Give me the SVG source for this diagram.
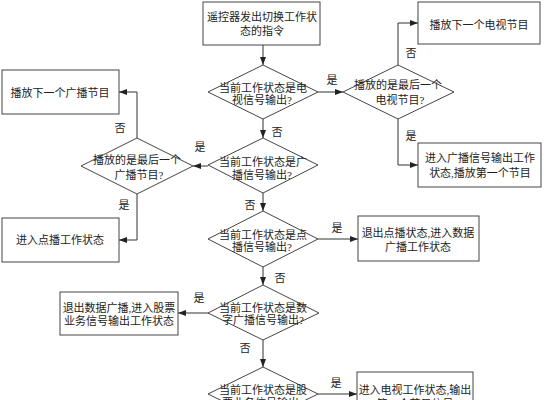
<svg xmlns="http://www.w3.org/2000/svg" width="546" height="400" viewBox="0 0 546 400">
<defs>
<style>
.b{fill:#fff;stroke:#444;stroke-width:1}
.t{font-family:"Liberation Serif","Noto Sans CJK SC",serif;font-size:11px;fill:#222;text-anchor:middle}
.c{fill:none;stroke:#333;stroke-width:1}
</style>
<marker id="a" viewBox="0 0 8 6" refX="8" refY="3" markerWidth="8" markerHeight="6" markerUnits="userSpaceOnUse" orient="auto">
<path d="M0,0 L8,3 L0,6 Z" fill="#222"/>
</marker>
</defs>
<rect width="546" height="400" fill="#fff"/>
<g id="connectors">
<path class="c" d="M263,45 V65" marker-end="url(#a)"/>
<path class="c" d="M318,92 H343" marker-end="url(#a)"/>
<path class="c" d="M398,65 V23 H418" marker-end="url(#a)"/>
<path class="c" d="M398,119 V165 H418" marker-end="url(#a)"/>
<path class="c" d="M263,119 V138" marker-end="url(#a)"/>
<path class="c" d="M208,166 H193" marker-end="url(#a)"/>
<path class="c" d="M137,138 V92 H119" marker-end="url(#a)"/>
<path class="c" d="M137,194 V240 H119" marker-end="url(#a)"/>
<path class="c" d="M263,193 V211" marker-end="url(#a)"/>
<path class="c" d="M318,239 H358" marker-end="url(#a)"/>
<path class="c" d="M263,267 V285" marker-end="url(#a)"/>
<path class="c" d="M208,313 H178" marker-end="url(#a)"/>
<path class="c" d="M263,340 V367" marker-end="url(#a)"/>
<path class="c" d="M318,394 H357" marker-end="url(#a)"/>
<text class="t" x="332" y="84">是</text>
<text class="t" x="411" y="57">否</text>
<text class="t" x="411" y="140">是</text>
<text class="t" x="277" y="136">否</text>
<text class="t" x="200" y="151">是</text>
<text class="t" x="120" y="132">否</text>
<text class="t" x="124" y="209">是</text>
<text class="t" x="250" y="209">否</text>
<text class="t" x="337" y="232">是</text>
<text class="t" x="280" y="282">否</text>
<text class="t" x="199" y="302">是</text>
<text class="t" x="245" y="352">否</text>
<text class="t" x="336" y="387">是</text>
</g>
<g id="start">
<rect class="b" x="203" y="2" width="117" height="43"/>
<text class="t" x="262" y="21">遥控器发出切换工作状</text>
<text class="t" x="262" y="35">态的指令</text>
</g>
<g id="d1">
<polygon class="b" points="263,65 318,92 263,119 208,92"/>
<text class="t" x="263" y="92">当前工作状态是电</text>
<text class="t" x="262" y="104">视信号输出?</text>
</g>
<g id="d2">
<polygon class="b" points="398,65 454,92 398,119 343,92"/>
<text class="t" x="398" y="89">播放的是最后一个</text>
<text class="t" x="400" y="104">电视节目?</text>
</g>
<g id="tvnext">
<rect class="b" x="418" y="2" width="122" height="42"/>
<text class="t" x="479" y="29">播放下一个电视节目</text>
</g>
<g id="bcfirst">
<rect class="b" x="418" y="143" width="123" height="44"/>
<text class="t" x="480" y="162">进入广播信号输出工作</text>
<text class="t" x="480" y="177">状态,播放第一个节目</text>
</g>
<g id="d4">
<polygon class="b" points="263,138 318,165 263,193 208,165"/>
<text class="t" x="263" y="166">当前工作状态是广</text>
<text class="t" x="262" y="179">播信号输出?</text>
</g>
<g id="d3">
<polygon class="b" points="137,138 193,166 137,194 81,166"/>
<text class="t" x="137" y="164">播放的是最后一个</text>
<text class="t" x="139" y="179">广播节目?</text>
</g>
<g id="bcnext">
<rect class="b" x="2" y="70" width="117" height="44"/>
<text class="t" x="60" y="97">播放下一个广播节目</text>
</g>
<g id="vod">
<rect class="b" x="2" y="218" width="117" height="44"/>
<text class="t" x="60" y="244">进入点播工作状态</text>
</g>
<g id="d5">
<polygon class="b" points="263,211 318,239 263,267 208,239"/>
<text class="t" x="263" y="239">当前工作状态是点</text>
<text class="t" x="262" y="251">播信号输出?</text>
</g>
<g id="databc">
<rect class="b" x="358" y="216" width="121" height="45"/>
<text class="t" x="418" y="237">退出点播状态,进入数据</text>
<text class="t" x="418" y="251">广播工作状态</text>
</g>
<g id="d6">
<polygon class="b" points="263,285 319,313 263,340 208,313"/>
<text class="t" x="263" y="312">当前工作状态是数</text>
<text class="t" x="263" y="324">字广播信号输出?</text>
</g>
<g id="stock">
<rect class="b" x="60" y="292" width="118" height="43"/>
<text class="t" x="119" y="312">退出数据广播,进入股票</text>
<text class="t" x="119" y="325">业务信号输出工作状态</text>
</g>
<g id="d7">
<polygon class="b" points="263,367 318,394 263,421 208,394"/>
<text class="t" x="263" y="394">当前工作状态是股</text>
<text class="t" x="263" y="407">票业务信号输出?</text>
</g>
<g id="tv">
<rect class="b" x="357" y="372" width="116" height="48"/>
<text class="t" x="415" y="394">进入电视工作状态,输出</text>
<text class="t" x="415" y="408">第一个节目信号</text>
</g>
</svg>
